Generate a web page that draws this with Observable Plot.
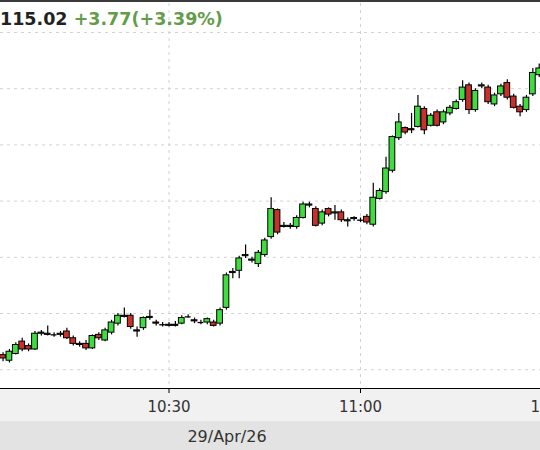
<!DOCTYPE html>
<html>
<head>
<meta charset="utf-8">
<script src="https://cdn.jsdelivr.net/npm/d3@7"></script>
<script src="https://cdn.jsdelivr.net/npm/@observablehq/plot@0.6"></script>
<style>
  html, body { margin: 0; padding: 0; background: #fff; }
  #wrap { position: relative; width: 540px; height: 450px; overflow: hidden; font-family: "DejaVu Sans", sans-serif; background: #fff; }
  #band1 { position: absolute; left: 0; top: 388px; width: 540px; height: 33px; background: #f1f1f1; }
  #band2 { position: absolute; left: 0; top: 421px; width: 540px; height: 29px; background: #e3e3e3; }
  #chart { position: absolute; left: 0; top: 0; }
  #topline { position: absolute; left: 0; top: 0; width: 540px; height: 2px; background: #3a3a3a; }
  #header { position: absolute; left: 0; top: 9px; font-size: 17.5px; font-weight: bold; white-space: nowrap; line-height: 20px; }
  #header .last { color: #222; }
  #header .chg { color: #649c4c; }
  #date { position: absolute; top: 428px; left: 227px; transform: translateX(-50%); font-size: 16px; color: #333; white-space: nowrap; line-height: 18px; }
</style>
</head>
<body>
<div id="wrap">
  <div id="band1"></div>
  <div id="band2"></div>
  <div id="chart"></div>
  <div id="topline"></div>
  <div id="header"><span class="last">115.02</span> <span class="chg">+3.77(+3.39%)</span></div>
  <div id="date">29/Apr/26</div>
</div>
<script>
const dateLabel = "29/Apr/26";
const times = [
  "10:04","10:05","10:06","10:07","10:08","10:09","10:10","10:11","10:12","10:13",
  "10:14","10:15","10:16","10:17","10:18","10:19","10:20","10:21","10:22","10:23",
  "10:24","10:25","10:26","10:27","10:28","10:29","10:30","10:31","10:32","10:33",
  "10:34","10:35","10:36","10:37","10:38","10:39","10:40","10:41","10:42","10:43",
  "10:44","10:45","10:46","10:47","10:48","10:49","10:50","10:51","10:52","10:53",
  "10:54","10:55","10:56","10:57","10:58","10:59","11:00","11:01","11:02","11:03",
  "11:04","11:05","11:06","11:07","11:08","11:09","11:10","11:11","11:12","11:13",
  "11:14","11:15","11:16","11:17","11:18","11:19","11:20","11:21","11:22","11:23",
  "11:24","11:25","11:26","11:27","11:28"
];
const open = [
  112.63,112.58,112.64,112.75,112.71,112.68,112.82,112.82,112.81,112.81,
  112.84,112.78,112.73,112.73,112.69,112.81,112.76,112.83,112.91,112.97,
  112.98,112.85,112.87,112.96,112.92,112.90,112.89,112.90,112.91,112.97,
  112.94,112.92,112.92,112.92,112.91,113.05,113.36,113.38,113.51,113.47,
  113.44,113.52,113.68,113.92,113.77,113.78,113.77,113.85,113.96,113.93,
  113.80,113.93,113.89,113.90,113.82,113.84,113.83,113.86,113.79,114.02,
  114.08,114.27,114.56,114.65,114.64,114.66,114.82,114.67,114.79,114.70,
  114.78,114.82,114.90,115.03,114.81,115.02,115.01,114.86,114.95,115.05,
  114.93,114.84,114.81,114.95,115.12
];
const high = [
  112.65,112.68,112.74,112.78,112.73,112.84,112.85,112.89,112.83,112.84,
  112.87,112.80,112.75,112.76,112.81,112.83,112.87,112.94,113.00,113.05,
  113.00,112.88,112.97,113.03,112.94,112.92,112.92,112.93,112.98,112.99,
  112.96,112.94,112.96,112.94,113.05,113.36,113.40,113.51,113.61,113.50,
  113.56,113.67,114.03,113.93,113.81,113.80,113.87,113.99,113.99,113.95,
  113.92,113.94,113.96,113.92,113.85,113.86,113.85,113.88,114.16,114.11,
  114.39,114.58,114.78,114.66,114.78,114.94,114.84,114.78,114.81,114.81,
  114.85,114.90,115.07,115.05,115.00,115.05,115.03,114.96,115.04,115.08,
  114.95,114.86,114.94,115.18,115.22
];
const low = [
  112.57,112.56,112.63,112.66,112.66,112.67,112.80,112.80,112.79,112.79,
  112.77,112.71,112.70,112.67,112.68,112.76,112.75,112.81,112.89,112.96,
  112.86,112.79,112.85,112.94,112.89,112.88,112.88,112.88,112.90,112.96,
  112.91,112.90,112.90,112.88,112.89,113.03,113.31,113.31,113.49,113.45,
  113.41,113.50,113.66,113.70,113.76,113.75,113.75,113.84,113.94,113.77,
  113.78,113.86,113.83,113.81,113.77,113.82,113.81,113.79,113.77,114.01,
  114.06,114.25,114.54,114.59,114.60,114.65,114.59,114.66,114.66,114.68,
  114.76,114.81,114.88,114.77,114.79,115.00,114.86,114.84,114.93,114.90,
  114.82,114.75,114.79,114.93,115.10
];
const close = [
  112.60,112.66,112.72,112.68,112.68,112.82,112.83,112.81,112.81,112.82,
  112.78,112.73,112.72,112.69,112.80,112.78,112.85,112.92,112.98,112.98,
  112.88,112.84,112.96,112.97,112.91,112.90,112.90,112.89,112.96,112.97,
  112.93,112.92,112.95,112.89,113.03,113.34,113.37,113.49,113.52,113.48,
  113.54,113.65,113.93,113.72,113.78,113.77,113.85,113.97,113.97,113.78,
  113.90,113.88,113.90,113.83,113.83,113.85,113.83,113.81,114.03,114.09,
  114.29,114.57,114.70,114.61,114.63,114.84,114.63,114.76,114.67,114.79,
  114.83,114.88,115.01,114.81,114.98,115.03,114.88,114.94,115.02,114.92,
  114.83,114.79,114.92,115.14,115.18
];
const tickLabels = ["10:30", "11:00", "11:30"];
const gridPrices = [112.5, 113.0, 113.5, 114.0, 114.5, 115.0, 115.5];

const day = [2026, 3, 29];
const toDate = (s, sec = 0) => {
  const [h, m] = s.split(":").map(Number);
  return new Date(day[0], day[1], day[2], h, m, sec);
};
const data = times.map((t, i) => ({
  t: toDate(t),
  x1: new Date(toDate(t).getTime() - 27000),
  x2: new Date(toDate(t).getTime() + 27000),
  open: open[i], high: high[i], low: low[i], close: close[i]
}));
const dojis = data.filter(d => Math.abs(d.close - d.open) < 0.005);
const tickDates = tickLabels.map(s => toDate(s));

const chart = Plot.plot({
  width: 540,
  height: 421,
  marginTop: 3,
  marginBottom: 33,
  marginLeft: 0,
  marginRight: 0,
  style: { background: "transparent", fontFamily: "DejaVu Sans", fontSize: "15px", color: "#333", overflow: "visible" },
  x: { type: "time", domain: [new Date(2026, 3, 29, 10, 3, 36), new Date(2026, 3, 29, 11, 28, 12)] },
  y: { domain: [112.333, 115.758], axis: null },
  marks: [
    Plot.ruleY(gridPrices, { stroke: "#d2d2d2", strokeDasharray: "3,4" }),
    Plot.ruleX(tickDates, { stroke: "#d2d2d2", strokeDasharray: "3,4" }),
    Plot.ruleX(data, { x: "t", y1: "low", y2: "high", stroke: "#000", strokeWidth: 1.2 }),
    Plot.rect(data, {
      x1: "x1", x2: "x2", y1: "open", y2: "close",
      fill: d => d.close >= d.open ? "#3fdc3f" : "#c8302b",
      stroke: "#000", strokeWidth: 1
    }),
    Plot.ruleY(dojis, { x1: "x1", x2: "x2", y: "open", stroke: "#000", strokeWidth: 1.3 }),
    Plot.ruleY([112.333], { stroke: "#000", strokeWidth: 1.2 }),
    Plot.axisX(tickDates, {
      tickFormat: d3.timeFormat("%H:%M"),
      tickSize: 5,
      tickPadding: 8,
      stroke: "#000",
      fill: "#333",
      fontSize: 15,
      label: null
    })
  ]
});
document.getElementById("chart").appendChild(chart);
</script>
</body>
</html>
